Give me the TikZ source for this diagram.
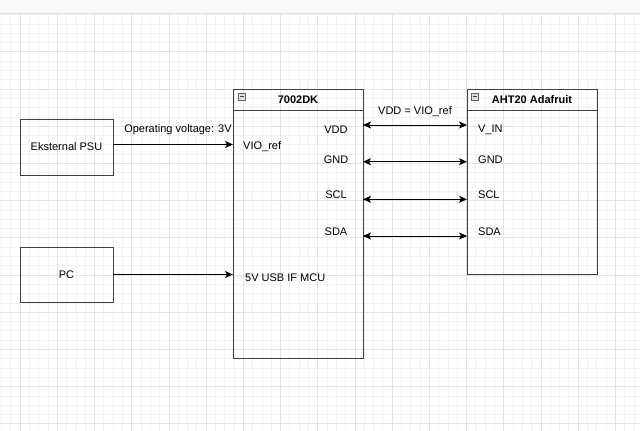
\documentclass[tikz,border=0pt]{standalone}
\usepackage{fontspec}
\setmainfont{Liberation Sans}
\usetikzlibrary{arrows.meta}
\definecolor{gridminor}{HTML}{F2F2F2}
\definecolor{gridmajor}{HTML}{E4E4E4}
\definecolor{boxline}{HTML}{404040}
\tikzset{
  box/.style={draw=boxline, line width=1pt, inner sep=0pt, outer sep=0pt, anchor=north west},
  lbl/.style={inner sep=0pt, text=black},
  ttl/.style={inner sep=0pt, font=\fontsize{11}{13}\selectfont\bfseries},
  arr/.style={draw=black, line width=0.9pt, -{Stealth[length=8pt,width=7pt,inset=2pt]}},
  darr/.style={draw=black, line width=0.9pt, {Stealth[length=8pt,width=7pt,inset=2pt]}-{Stealth[length=8pt,width=7pt,inset=2pt]}},
  icon/.style={draw=boxline!80, fill=gray!25, line width=0.6pt, minimum width=7pt, minimum height=7pt, inner sep=0pt}
}
\begin{document}
\begin{tikzpicture}[x=1pt,y=-1pt,font=\fontsize{11}{13}\selectfont]
\useasboundingbox (0,0) rectangle (640,431);
\fill[white] (0,0) rectangle (640,431);
% grid
\foreach \i in {0,...,68} {\draw[gridminor, line width=0.5pt] ({1.4+9.3*\i},13) -- ({1.4+9.3*\i},431);}
\foreach \k in {-4,...,41} {\draw[gridminor, line width=0.5pt] (0,{51.7+9.3*\k}) -- (640,{51.7+9.3*\k});}
\foreach \i in {0,...,17} {\draw[gridmajor, line width=0.6pt] ({20+37.2*\i},13) -- ({20+37.2*\i},431);}
\foreach \k in {0,...,10} {\draw[gridmajor, line width=0.6pt] (0,{51.7+37.2*\k}) -- (640,{51.7+37.2*\k});}
\fill[gray!4] (0,0) rectangle (640,12.5);
\draw[gridmajor, line width=0.8pt] (0,13) -- (640,13);

% boxes
\node[box, minimum width=93pt, minimum height=56pt] (psu) at (20,119) {};
\node[lbl] (psut) at (psu.center) {Eksternal PSU};
\node[box, minimum width=93pt, minimum height=55pt] (pc) at (20,247) {};
\node[lbl] (pct) at (pc.center) {PC};

\node[box, minimum width=130pt, minimum height=269pt] (dk) at (233,89) {};
\draw[boxline, line width=1pt] ([yshift=-21pt]dk.north west) -- ([yshift=-21pt]dk.north east);
\node[ttl] (dkt) at (298,99.5) {7002DK};
\node[icon] (dki) at (242,96.5) {};
\draw[boxline, line width=0.6pt] ([xshift=-2pt]dki.center) -- ([xshift=2pt]dki.center);

\node[box, minimum width=130pt, minimum height=185pt] (aht) at (467,89) {};
\draw[boxline, line width=1pt] ([yshift=-21pt]aht.north west) -- ([yshift=-21pt]aht.north east);
\node[ttl] (ahtt) at (532,99.5) {AHT20 Adafruit};
\node[icon] (ahti) at (474.5,96.5) {};
\draw[boxline, line width=0.6pt] ([xshift=-2pt]ahti.center) -- ([xshift=2pt]ahti.center);

% labels inside 7002DK
\node[lbl, anchor=west] (vio) at (243,146.5) {VIO\_ref};
\node[lbl, anchor=west] (usb) at (245,278) {5V USB IF MCU};
\node[lbl] (dvdd) at (336,130) {VDD};
\node[lbl] (dgnd) at (336,160) {GND};
\node[lbl] (dscl) at (336,195) {SCL};
\node[lbl] (dsda) at (336,232) {SDA};
% labels inside AHT20
\node[lbl, anchor=west] (avin) at (478,130) {V\_IN};
\node[lbl, anchor=west] (agnd) at (478,160) {GND};
\node[lbl, anchor=west] (ascl) at (478,195) {SCL};
\node[lbl, anchor=west] (asda) at (478,232) {SDA};

% connectors
\coordinate (ypsu) at (0,144.5);
\draw[arr] (psu.east |- ypsu) -- (dk.west |- ypsu);
\node[lbl] (opv) at (178,130) {Operating voltage: 3V};
\draw[arr] (pc.east) -- (pc.east -| dk.west);

\coordinate (y1) at (0,125);
\coordinate (y2) at (0,161.7);
\coordinate (y3) at (0,199.3);
\coordinate (y4) at (0,236);
\draw[darr] (dk.east |- y1) -- (aht.west |- y1);
\draw[darr] (dk.east |- y2) -- (aht.west |- y2);
\draw[darr] (dk.east |- y3) -- (aht.west |- y3);
\draw[darr] (dk.east |- y4) -- (aht.west |- y4);
\node[lbl] (vddeq) at (415,112) {VDD = VIO\_ref};
\end{tikzpicture}
\end{document}
